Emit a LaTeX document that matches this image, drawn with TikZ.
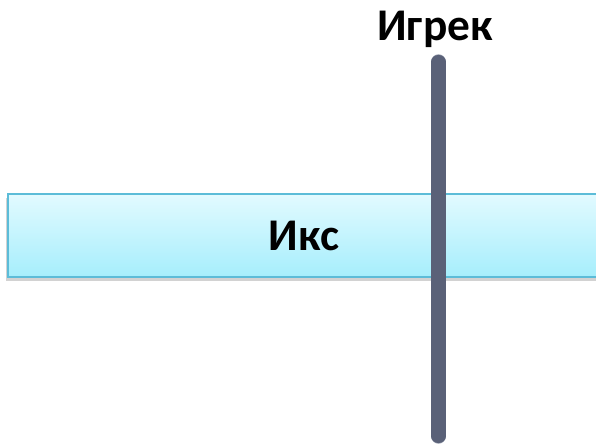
\documentclass[tikz,border=0pt]{standalone}
\usepackage{fontspec}
\setmainfont{Carlito}
\usetikzlibrary{shadows}

\definecolor{boxtop}{HTML}{E2FAFF}
\definecolor{boxbot}{HTML}{A6EEFC}
\definecolor{boxline}{HTML}{5CBCD8}
\definecolor{barcol}{HTML}{5A6178}
\definecolor{baredge}{HTML}{9AA0B0}

\tikzset{
  axisbox/.style={draw=boxline, line width=1.2pt, top color=boxtop, bottom color=boxbot,
    drop shadow={shadow xshift=-1.5pt, shadow yshift=-3pt, fill=black!35, opacity=0.5},
    inner sep=0pt, font=\bfseries\fontsize{34}{36}\selectfont},
  axislabel/.style={inner sep=0.75pt, anchor=base, font=\bfseries\fontsize{34}{36}\selectfont}
}

\begin{document}
\begin{tikzpicture}[x=0.75pt,y=0.75pt,yscale=-1,xscale=1]
\useasboundingbox (0,0) rectangle (596,447);

%Box with text
\node[axisbox, minimum width=592*0.75pt, minimum height=83*0.75pt] (iks) at (304,235.5) {Икс};

%Vertical bar
\draw[baredge, line width=11.6pt, line cap=round] (438.5,62) -- (438.5,436);
\draw[barcol, line width=10.6pt, line cap=round] (438.5,62) -- (438.5,436);

% Text Node
\node[axislabel] (igrek) at (435,40) {Игрек};

\end{tikzpicture}
\end{document}
